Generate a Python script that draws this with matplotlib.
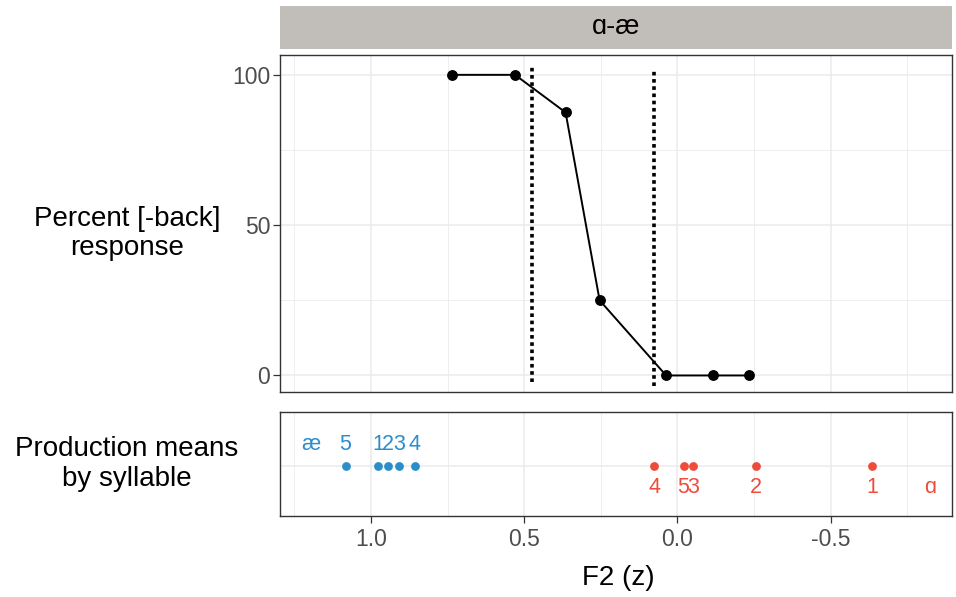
import matplotlib.pyplot as plt
from matplotlib.ticker import MultipleLocator

plt.rcParams['font.family'] = ['Liberation Sans', 'DejaVu Sans']

# perception continuum (top panel)
stim_f2 = [0.737, 0.530, 0.365, 0.254, 0.037, -0.117, -0.235]
pct_back = [100, 100, 87.5, 25, 0, 0, 0]
boundary_x = [0.473, 0.075]
boundary_top = [102.8, 101.3]
boundary_bottom = [-2.3, -3.6]

# production means by syllable (bottom panel)
syllables = ['1', '2', '3', '4', '5']
ae_means = [0.976, 0.944, 0.909, 0.857, 1.083]
a_means = [-0.636, -0.256, -0.050, 0.076, -0.020]
ae_label_x = 1.197
a_label_x = -0.824

blue = '#2B8DCA'
red = '#EE4B3B'
grid_col = '#EBEBEB'
tick_col = '#4D4D4D'
xlim = (1.297, -0.896)

W, H = 956, 597
fig = plt.figure(figsize=(W / 100, H / 100), dpi=100)


def box(l, t, r, b):
    return [l / W, 1 - b / H, (r - l) / W, (b - t) / H]


def style(ax):
    ax.set_xlim(*xlim)
    ax.xaxis.set_major_locator(MultipleLocator(0.5))
    ax.xaxis.set_minor_locator(MultipleLocator(0.25))
    ax.grid(which='major', color=grid_col, lw=1.1, zorder=0)
    ax.grid(which='minor', color=grid_col, lw=0.6, zorder=0)
    ax.set_axisbelow(True)
    for s in ax.spines.values():
        s.set_color('#333333')
        s.set_linewidth(1.0)
    ax.tick_params(which='both', color='#333333', labelcolor=tick_col, labelsize=16.5,
                   length=5, width=0.9)
    ax.tick_params(which='minor', length=0)


# strip
strip = fig.add_axes(box(280, 6, 952, 49))
strip.set_facecolor('#C1BDB9')
strip.set_xticks([])
strip.set_yticks([])
for s in strip.spines.values():
    s.set_visible(False)
strip.text(0.5, 0.5, 'ɑ-æ', ha='center', va='center', fontsize=19.5, transform=strip.transAxes)

# top panel
ax1 = fig.add_axes(box(280, 55, 952, 392))
style(ax1)
ax1.set_ylim(-5.5, 106.6)
ax1.yaxis.set_major_locator(MultipleLocator(50))
ax1.yaxis.set_minor_locator(MultipleLocator(25))
ax1.tick_params(axis='x', which='both', length=0, labelbottom=False)
ax1.tick_params(axis='y', pad=2)
ax1.plot(stim_f2, pct_back, color='black', lw=1.4, marker='o', ms=6.8, zorder=3)
for bx, bt, bb in zip(boundary_x, boundary_top, boundary_bottom):
    ax1.plot([bx, bx], [bb, bt], color='black', lw=2.6, ls=(0, (1, 1)), zorder=2)

# bottom panel
ax2 = fig.add_axes(box(280, 412, 952, 516))
style(ax2)
ax2.set_ylim(-1, 1.074)
ax2.set_yticks([0])
ax2.tick_params(axis='y', length=0, labelleft=False)
ax2.scatter(ae_means, [0] * len(ae_means), color=blue, s=40, zorder=3, linewidths=0)
ax2.scatter(a_means, [0] * len(a_means), color=red, s=40, zorder=3, linewidths=0)
for lab, x in zip(syllables, ae_means):
    ax2.annotate(lab, (x, 0), xytext=(0, 15.5), textcoords='offset points',
                 ha='center', va='center', color=blue, fontsize=15.5)
for lab, x in zip(syllables, a_means):
    ax2.annotate(lab, (x, 0), xytext=(0, -15.5), textcoords='offset points',
                 ha='center', va='center', color=red, fontsize=15.5)
ax2.annotate('æ', (ae_label_x, 0), xytext=(0, 15.5), textcoords='offset points',
             ha='center', va='center', color=blue, fontsize=15.5)
ax2.annotate('ɑ', (a_label_x, 0), xytext=(0, -15.5), textcoords='offset points',
             ha='center', va='center', color=red, fontsize=15.5)
ax2.set_xticks([1.0, 0.5, 0.0, -0.5])
ax2.set_xticklabels(['1.0', '0.5', '0.0', '-0.5'])
ax2.tick_params(axis='x', pad=3.5)

# titles
fig.text(127 / W, 1 - 234 / H, 'Percent [-back]\nresponse', ha='center', va='center',
         fontsize=20, linespacing=1.15)
fig.text(127 / W, 1 - 464 / H, 'Production means\nby syllable', ha='center', va='center',
         fontsize=20, linespacing=1.15)
fig.text(618 / W, 1 - 578 / H, 'F2 (z)', ha='center', va='center', fontsize=20)

fig.savefig('out.png', dpi=100)
